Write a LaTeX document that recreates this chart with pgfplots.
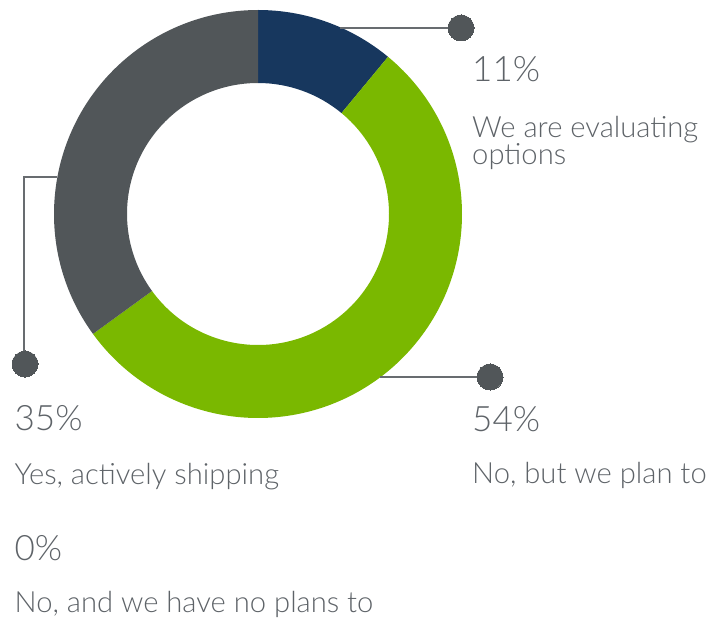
\documentclass[border=0pt]{standalone}
\usepackage{pgfplots}
\pgfplotsset{compat=1.18}
\usepackage{pgfplotstable}
\usepackage{fontspec}
\setmainfont{Lato}[UprightFont=* Light]
\definecolor{navy}{HTML}{17375E}
\definecolor{lime}{HTML}{7AB800}
\definecolor{slate}{HTML}{515659}
\definecolor{txt}{HTML}{5E6368}
\definecolor{lead}{HTML}{686C70}

\pgfplotstableread{
label value
eval 11
plan 54
yes 35
no 0
}\datatable

\begin{document}
\begin{tikzpicture}
\begin{axis}[x=1pt,y=1pt,xmin=0,xmax=709,ymin=0,ymax=619,
  hide axis, clip=false, disabledatascaling]
\pgfplotstablegetelem{0}{value}\of\datatable \let\vA\pgfplotsretval
\pgfplotstablegetelem{1}{value}\of\datatable \let\vB\pgfplotsretval
\pgfplotstablegetelem{2}{value}\of\datatable \let\vC\pgfplotsretval
\pgfmathsetmacro\aO{90}
\pgfmathsetmacro\aA{90-3.6*\vA}
\pgfmathsetmacro\aB{\aA-3.6*\vB}
\pgfmathsetmacro\aC{\aB-3.6*\vC}
\def\Ro{204pt}\def\Ri{131pt}\def\Rd{73pt}
\fill[navy] (axis cs:258,405) ++(\aO:\Ro) arc[start angle=\aO,end angle=\aA,radius=\Ro] -- ++(\aA+180:\Rd) arc[start angle=\aA,end angle=\aO,radius=\Ri] -- cycle;
\fill[lime] (axis cs:258,405) ++(\aA:\Ro) arc[start angle=\aA,end angle=\aB,radius=\Ro] -- ++(\aB+180:\Rd) arc[start angle=\aB,end angle=\aA,radius=\Ri] -- cycle;
\fill[slate] (axis cs:258,405) ++(\aB:\Ro) arc[start angle=\aB,end angle=\aC,radius=\Ro] -- ++(\aC+180:\Rd) arc[start angle=\aC,end angle=\aB,radius=\Ri] -- cycle;
% leader lines
\addplot[lead, line width=1.5pt] coordinates {(340,591) (461,591)};
\addplot[lead, line width=1.5pt] coordinates {(380,242) (490,242)};
\addplot[lead, line width=1.5pt] coordinates {(57,442) (24,442) (24,255)};
\addplot[only marks, mark=*, mark size=13pt, mark options={fill=slate, draw=slate, line width=0pt}] coordinates {(461,591) (490,242) (25,255)};
% labels
\tikzset{pct/.style={anchor=base west, text=txt, inner sep=0pt, font=\fontsize{35}{35}\selectfont},
         lbl/.style={anchor=base west, text=txt, inner sep=0pt, font=\fontsize{29.2}{29.2}\selectfont}}
\node[pct] at (axis cs:472,537) {11\%};
\node[lbl] at (axis cs:472,481) {We are evaluating};
\node[lbl] at (axis cs:472,454) {options};
\node[pct] at (axis cs:472,188) {54\%};
\node[lbl] at (axis cs:472,136) {No, but we plan to};
\node[pct] at (axis cs:14.5,189) {35\%};
\node[lbl] at (axis cs:14.5,135) {Yes, actively shipping};
\node[pct] at (axis cs:14.5,59) {0\%};
\node[lbl] at (axis cs:14.5,6.5) {No, and we have no plans to};
\coordinate (bl) at (axis cs:0,0);
\coordinate (tr) at (axis cs:709,619);
\end{axis}
\pgfresetboundingbox
\path[use as bounding box] (bl) rectangle (tr);
\end{tikzpicture}
\end{document}
